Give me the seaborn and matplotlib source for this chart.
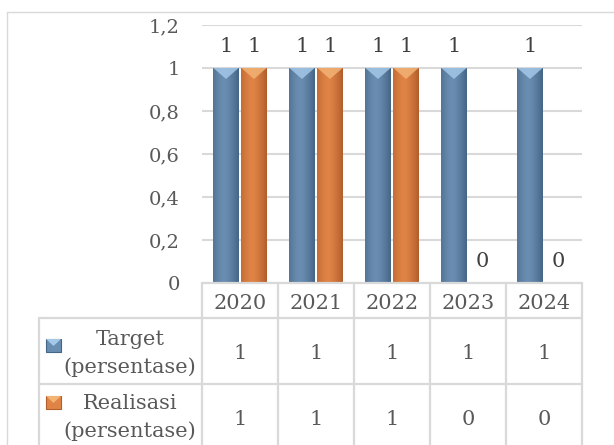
import numpy as np
import pandas as pd
import matplotlib
matplotlib.use("Agg")
import matplotlib.pyplot as plt
import seaborn as sns
from matplotlib.colors import to_rgb
from matplotlib.patches import Polygon, Rectangle
from matplotlib.lines import Line2D
from matplotlib.ticker import FuncFormatter, MultipleLocator

# ---- data -------------------------------------------------------------
years = ["2020", "2021", "2022", "2023", "2024"]
target = [1, 1, 1, 1, 1]
realisasi = [1, 1, 1, 0, 0]
series = ["Target (persentase)", "Realisasi (persentase)"]
row_labels = [["Target", "(persentase)"], ["Realisasi", "(persentase)"]]

# ---- style ------------------------------------------------------------
W, H = 614, 445
sns.set_theme(style="white")
plt.rcParams["font.family"] = ["DejaVu Serif", "DejaVu Sans"]
TEXT = "#595959"
GRID = "#d9d9d9"
BASE = {series[0]: ("#456585", "#6a8db2", "#a4c8e8"),
        series[1]: ("#b15d2c", "#e08446", "#f3b375")}

df = pd.DataFrame({
    "Tahun": years * 2,
    "Nilai": target + realisasi,
    "Seri": [series[0]] * len(years) + [series[1]] * len(years),
})

fig = plt.figure(figsize=(W / 100, H / 100), dpi=100)


def fx(x):
    return x / W


def fy(y):
    return 1 - y / H


# plot area
X0, X1, Y0, Y1 = 202, 582, 283, 25
ax = fig.add_axes([fx(X0), fy(Y0), fx(X1) - fx(X0), fy(Y1) - fy(Y0)])
palette = {s: BASE[s][1] for s in series}
sns.barplot(data=df, x="Tahun", y="Nilai", hue="Seri", order=years,
            hue_order=series, palette=palette, width=0.737, gap=0.1,
            errorbar=None, legend=False, saturation=1, linewidth=0,
            ax=ax)
ax.set_xlim(-0.5, len(years) - 0.5)
ax.set_ylim(0, 1.2)


def shade(c_dark, c_light, n=64):
    u = np.linspace(0, 1, n)
    t = 1 - np.clip(np.abs(u - 0.42) / 0.58, 0, 1) ** 1.5
    d = np.array(to_rgb(c_dark))
    l = np.array(to_rgb(c_light))
    return (d[None, :] * (1 - t[:, None]) + l[None, :] * t[:, None])[None, :, :]


tri_h = 11 / 215
for s, cont in zip(series, ax.containers):
    dark, light, top = BASE[s]
    img = shade(dark, light)
    for rect in cont:
        h = rect.get_height()
        if h <= 0:
            continue
        x0, y0 = rect.get_xy()
        w = rect.get_width()
        im = ax.imshow(img, extent=[x0, x0 + w, y0, y0 + h], aspect="auto",
                       interpolation="bilinear", zorder=rect.get_zorder() + 0.1)
        im.set_clip_path(rect)
        ax.add_patch(Polygon([(x0, y0 + h), (x0 + w, y0 + h),
                              (x0 + w / 2, y0 + h - tri_h)],
                             closed=True, facecolor=top, edgecolor="none",
                             alpha=0.85, zorder=rect.get_zorder() + 0.2))
    vals = [int(round(r.get_height())) for r in cont]
    ax.bar_label(cont, labels=[str(v) for v in vals], padding=8.5,
                 fontsize=15, color="#404040")

ax.set_xlim(-0.5, len(years) - 0.5)
ax.set_ylim(0, 1.2)
ax.yaxis.set_major_locator(MultipleLocator(0.2))
ax.yaxis.set_major_formatter(FuncFormatter(
    lambda v, _: f"{v:.1f}".rstrip("0").rstrip(".").replace(".", ",")))
ax.yaxis.grid(True, color=GRID, lw=1.5)
ax.set_axisbelow(True)
ax.tick_params(axis="y", length=0, pad=16, labelsize=14, labelcolor=TEXT)
ax.tick_params(axis="x", length=0, labelbottom=False)
ax.set_xlabel("")
ax.set_ylabel("")
for sp in ax.spines.values():
    sp.set_visible(False)

# ---- chart border ------------------------------------------------------
fig.add_artist(Line2D([fx(7), fx(W + 5)], [fy(12), fy(12)], color=GRID, lw=1))
fig.add_artist(Line2D([fx(7), fx(7)], [fy(12), fy(H + 5)], color=GRID, lw=1))

# ---- data table under the axis ----------------------------------------
col_edges = [X0 + i * (X1 - X0) / len(years) for i in range(len(years) + 1)]
row_y = [Y0, 318, 384, 452]
LX = 39


def hline(y, xa, xb):
    fig.add_artist(Line2D([fx(xa), fx(xb)], [fy(y), fy(y)], color=GRID, lw=1.6))


def vline(x, ya, yb):
    fig.add_artist(Line2D([fx(x), fx(x)], [fy(ya), fy(yb)], color=GRID, lw=1.6))


hline(row_y[0], X0, X1)
hline(row_y[1], LX, X1)
hline(row_y[2], LX, X1)
for x in col_edges:
    vline(x, row_y[0], row_y[3])
vline(LX, row_y[1], row_y[3])

centers = [(a + b) / 2 for a, b in zip(col_edges[:-1], col_edges[1:])]
for cx, yr in zip(centers, years):
    fig.text(fx(cx), fy(309), yr, ha="center", va="baseline",
             fontsize=15, color=TEXT)

value_rows = [target, realisasi]
value_base = [359, 425]
label_base = [(345, 373), (409, 437)]
key_top = [339, 396]
for vals, yb, (b1, b2), kt, s, lab in zip(value_rows, value_base, label_base,
                                          key_top, series, row_labels):
    for cx, v in zip(centers, vals):
        fig.text(fx(cx), fy(yb), str(v), ha="center", va="baseline",
                 fontsize=15, color=TEXT)
    fig.text(fx(130), fy(b1), lab[0], ha="center", va="baseline",
             fontsize=15, color=TEXT)
    fig.text(fx(130), fy(b2), lab[1], ha="center", va="baseline",
             fontsize=15, color=TEXT)
    dark, light, top = BASE[s]
    fig.add_artist(Rectangle((fx(46), fy(kt + 13)), fx(15) - fx(0),
                             fy(0) - fy(13), transform=fig.transFigure,
                             facecolor=light, edgecolor=dark, lw=0.8))
    fig.add_artist(Polygon([(fx(46), fy(kt)), (fx(61), fy(kt)),
                            (fx(53.5), fy(kt + 7))], closed=True,
                           transform=fig.transFigure, facecolor=top,
                           edgecolor="none"))

fig.savefig("out.png", dpi=100)
